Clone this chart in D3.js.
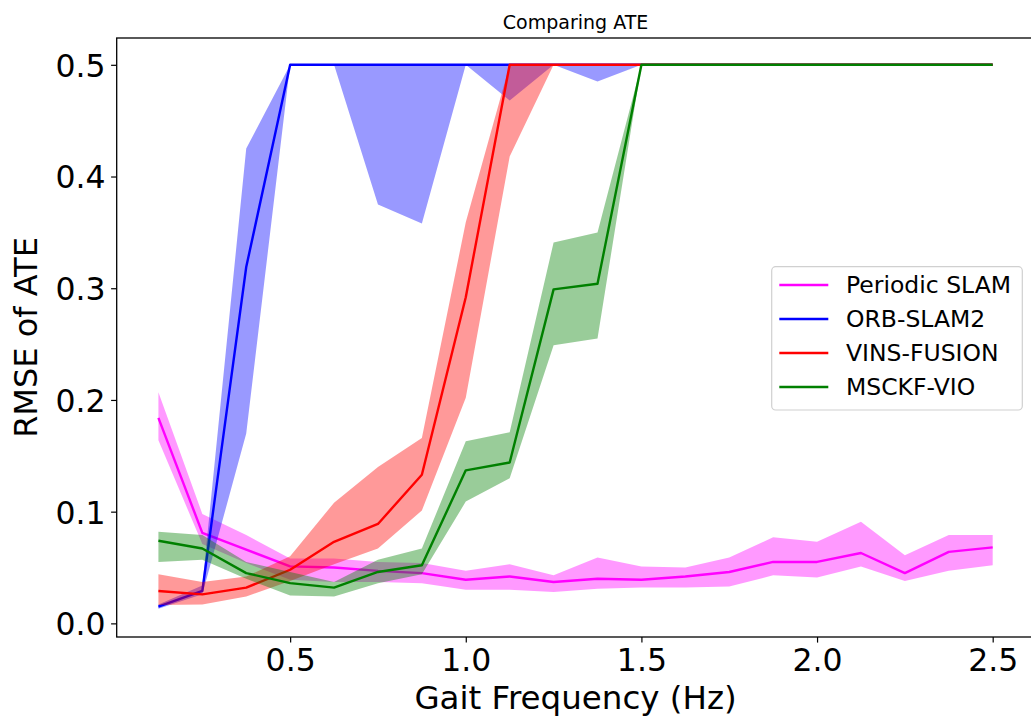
<!DOCTYPE html>
<html>
<head>
<meta charset="utf-8">
<script src="https://cdn.jsdelivr.net/npm/d3@7"></script>
<style>
  html, body { margin: 0; padding: 0; background: #fff; }
  svg { display: block; font-family: "DejaVu Sans", sans-serif; }
</style>
</head>
<body>
<svg id="chart" width="1031" height="719"></svg>
<script>
// Gait frequency (Hz) at which each run was evaluated
const freq = [0.125, 0.25, 0.375, 0.5, 0.625, 0.75, 0.875, 1.0, 1.125, 1.25,
              1.375, 1.5, 1.625, 1.75, 1.875, 2.0, 2.125, 2.25, 2.375, 2.5];

// RMSE of ATE per method: mean with lower / upper spread
const periodicMean = [0.184, 0.081, 0.066, 0.051, 0.050, 0.047, 0.045, 0.039, 0.042, 0.037,
                      0.040, 0.039, 0.042, 0.046, 0.055, 0.055, 0.063, 0.045, 0.064, 0.068];
const periodicLow  = [0.164, 0.071, 0.054, 0.039, 0.037, 0.037, 0.036, 0.030, 0.030, 0.028,
                      0.031, 0.032, 0.032, 0.033, 0.043, 0.041, 0.051, 0.038, 0.047, 0.052];
const periodicHigh = [0.207, 0.098, 0.079, 0.058, 0.058, 0.055, 0.054, 0.047, 0.053, 0.043,
                      0.059, 0.051, 0.050, 0.059, 0.077, 0.073, 0.091, 0.061, 0.079, 0.079];

const orbMean = [0.015, 0.029, 0.319, 0.5, 0.5, 0.5, 0.5, 0.5, 0.5, 0.5,
                 0.5, 0.5, 0.5, 0.5, 0.5, 0.5, 0.5, 0.5, 0.5, 0.5];
const orbLow  = [0.013, 0.026, 0.170, 0.5, 0.5, 0.375, 0.358, 0.5, 0.468, 0.5,
                 0.485, 0.5, 0.5, 0.5, 0.5, 0.5, 0.5, 0.5, 0.5, 0.5];
const orbHigh = [0.017, 0.034, 0.425, 0.5, 0.5, 0.5, 0.5, 0.5, 0.5, 0.5,
                 0.5, 0.5, 0.5, 0.5, 0.5, 0.5, 0.5, 0.5, 0.5, 0.5];

const vinsMean = [0.029, 0.026, 0.032, 0.048, 0.073, 0.089, 0.133, 0.292, 0.5, 0.5,
                  0.5, 0.5, 0.5, 0.5, 0.5, 0.5, 0.5, 0.5, 0.5, 0.5];
const vinsLow  = [0.0165, 0.017, 0.024, 0.038, 0.053, 0.067, 0.101, 0.202, 0.418, 0.5,
                  0.5, 0.5, 0.5, 0.5, 0.5, 0.5, 0.5, 0.5, 0.5, 0.5];
const vinsHigh = [0.044, 0.037, 0.042, 0.060, 0.108, 0.140, 0.166, 0.359, 0.5, 0.5,
                  0.5, 0.5, 0.5, 0.5, 0.5, 0.5, 0.5, 0.5, 0.5, 0.5];

const msckfMean = [0.074, 0.067, 0.045, 0.036, 0.032, 0.046, 0.052, 0.137, 0.144, 0.299,
                   0.304, 0.5, 0.5, 0.5, 0.5, 0.5, 0.5, 0.5, 0.5, 0.5];
const msckfLow  = [0.055, 0.057, 0.040, 0.025, 0.024, 0.036, 0.044, 0.109, 0.130, 0.249,
                   0.255, 0.5, 0.5, 0.5, 0.5, 0.5, 0.5, 0.5, 0.5, 0.5];
const msckfHigh = [0.082, 0.079, 0.055, 0.046, 0.037, 0.057, 0.067, 0.163, 0.171, 0.341,
                   0.350, 0.5, 0.5, 0.5, 0.5, 0.5, 0.5, 0.5, 0.5, 0.5];

const seriesNames  = ["Periodic SLAM", "ORB-SLAM2", "VINS-FUSION", "MSCKF-VIO"];
const seriesColors = ["#ff00ff", "#0000ff", "#ff0000", "#008000"];

const xTicks = [0.5, 1.0, 1.5, 2.0, 2.5];
const yTicks = [0.0, 0.1, 0.2, 0.3, 0.4, 0.5];

(function draw() {
  const series = [
    { mean: periodicMean, low: periodicLow, high: periodicHigh },
    { mean: orbMean,      low: orbLow,      high: orbHigh },
    { mean: vinsMean,     low: vinsLow,     high: vinsHigh },
    { mean: msckfMean,    low: msckfLow,    high: msckfHigh }
  ].map((s, i) => ({
    name: seriesNames[i],
    color: seriesColors[i],
    points: freq.map((f, j) => ({ x: f, m: s.mean[j], lo: s.low[j], hi: s.high[j] }))
  }));

  const svg = d3.select("#chart");

  // plot area
  const plotLeft = 116.7, plotRight = 1034.4, plotTop = 38, plotBottom = 637;

  const x = d3.scaleLinear().domain([0.00625, 2.61875]).range([plotLeft, plotRight]);
  const y = d3.scaleLinear().domain([-0.0122, 0.5240]).range([plotBottom, plotTop]);

  const plot = svg.append("g");

  const area = d3.area()
    .x(d => x(d.x))
    .y0(d => y(d.lo))
    .y1(d => y(d.hi));

  const line = d3.line()
    .x(d => x(d.x))
    .y(d => y(d.m));

  series.forEach(s => {
    plot.append("path")
      .attr("d", area(s.points))
      .attr("fill", s.color)
      .attr("fill-opacity", 0.4)
      .attr("stroke", "none");
    plot.append("path")
      .attr("d", line(s.points))
      .attr("fill", "none")
      .attr("stroke", s.color)
      .attr("stroke-width", 2.4)
      .attr("stroke-linejoin", "round");
  });

  // axes
  const xAxis = d3.axisBottom(x)
    .tickValues(xTicks)
    .tickFormat(d3.format(".1f"))
    .tickSize(5.6)
    .tickPadding(5.6);
  const yAxis = d3.axisLeft(y)
    .tickValues(yTicks)
    .tickFormat(d3.format(".1f"))
    .tickSize(5.6)
    .tickPadding(5.6);

  const gx = svg.append("g").attr("transform", `translate(0,${plotBottom})`).call(xAxis);
  const gy = svg.append("g").attr("transform", `translate(${plotLeft},0)`).call(yAxis);

  [gx, gy].forEach(g => {
    g.select(".domain").remove();
    g.selectAll(".tick line").attr("stroke", "#000").attr("stroke-width", 1.2);
    g.selectAll(".tick text")
      .attr("fill", "#000")
      .style("font-family", "DejaVu Sans")
      .style("font-size", "31.5px");
  });
  gx.selectAll(".tick text").attr("dy", "0.71em");
  gy.selectAll(".tick text").attr("dy", "0.36em");

  // frame
  svg.append("rect")
    .attr("x", plotLeft).attr("y", plotTop)
    .attr("width", plotRight - plotLeft).attr("height", plotBottom - plotTop)
    .attr("fill", "none")
    .attr("stroke", "#000")
    .attr("stroke-width", 1.3);

  // title and axis labels
  svg.append("text")
    .attr("x", (plotLeft + plotRight) / 2).attr("y", 28.5)
    .attr("text-anchor", "middle")
    .style("font-size", "19px")
    .text("Comparing ATE");

  svg.append("text")
    .attr("x", (plotLeft + plotRight) / 2).attr("y", 709)
    .attr("text-anchor", "middle")
    .style("font-size", "32.5px")
    .text("Gait Frequency (Hz)");

  svg.append("text")
    .attr("transform", `translate(37,${(plotTop + plotBottom) / 2}) rotate(-90)`)
    .attr("text-anchor", "middle")
    .style("font-size", "32px")
    .text("RMSE of ATE");

  // legend
  const lg = svg.append("g");
  lg.append("rect")
    .attr("x", 771.7).attr("y", 266.7)
    .attr("width", 250.6).attr("height", 143.3)
    .attr("rx", 4).attr("ry", 4)
    .attr("fill", "#fff").attr("fill-opacity", 0.8)
    .attr("stroke", "#d0d0d0").attr("stroke-width", 1.2);

  series.forEach((s, i) => {
    const yy = 285 + i * 34;
    lg.append("line")
      .attr("x1", 779.3).attr("x2", 828.3)
      .attr("y1", yy).attr("y2", yy)
      .attr("stroke", s.color).attr("stroke-width", 2.4);
    lg.append("text")
      .attr("x", 846).attr("y", yy)
      .attr("dy", "0.36em")
      .style("font-size", "23.5px")
      .text(s.name);
  });
})();
</script>
</body>
</html>
